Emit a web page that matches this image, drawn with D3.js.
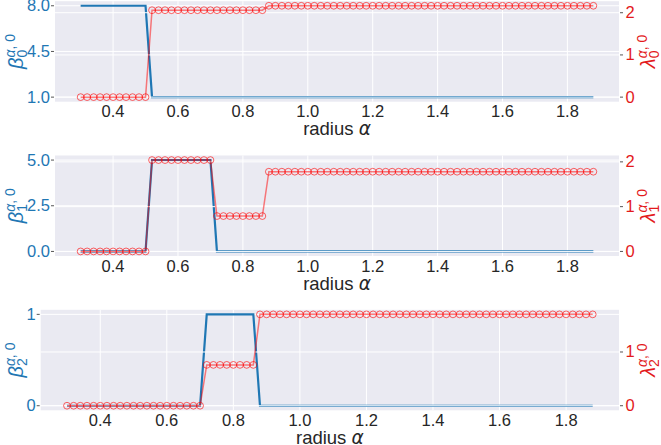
<!DOCTYPE html>
<html>
<head>
<meta charset="utf-8">
<script src="https://cdn.jsdelivr.net/npm/d3@7"></script>
<style>
	body { margin: 0; background: #ffffff; }
	text { font-family: "Liberation Sans", Arial, sans-serif; }
</style>
</head>
<body>
<svg id="chart" width="661" height="445"></svg>
<script>

//radius values (x axis), one value every 0.02
var radius = [
	0.30,0.32,0.34,0.36,0.38,0.40,0.42,0.44,0.46,0.48,
	0.50,0.52,0.54,0.56,0.58,0.60,0.62,0.64,0.66,0.68,
	0.70,0.72,0.74,0.76,0.78,0.80,0.82,0.84,0.86,0.88,
	0.90,0.92,0.94,0.96,0.98,1.00,1.02,1.04,1.06,1.08,
	1.10,1.12,1.14,1.16,1.18,1.20,1.22,1.24,1.26,1.28,
	1.30,1.32,1.34,1.36,1.38,1.40,1.42,1.44,1.46,1.48,
	1.50,1.52,1.54,1.56,1.58,1.60,1.62,1.64,1.66,1.68,
	1.70,1.72,1.74,1.76,1.78,1.80,1.82,1.84,1.86,1.88];

//betti numbers
var beta0 = [
	8,8,8,8,8,8,8,8,8,8,
	8,1,1,1,1,1,1,1,1,1,
	1,1,1,1,1,1,1,1,1,1,
	1,1,1,1,1,1,1,1,1,1,
	1,1,1,1,1,1,1,1,1,1,
	1,1,1,1,1,1,1,1,1,1,
	1,1,1,1,1,1,1,1,1,1,
	1,1,1,1,1,1,1,1,1,1];
var beta1 = [
	0,0,0,0,0,0,0,0,0,0,
	0,5,5,5,5,5,5,5,5,5,
	5,0,0,0,0,0,0,0,0,0,
	0,0,0,0,0,0,0,0,0,0,
	0,0,0,0,0,0,0,0,0,0,
	0,0,0,0,0,0,0,0,0,0,
	0,0,0,0,0,0,0,0,0,0,
	0,0,0,0,0,0,0,0,0,0];
var beta2 = [
	0,0,0,0,0,0,0,0,0,0,
	0,0,0,0,0,0,0,0,0,0,
	0,1,1,1,1,1,1,1,1,0,
	0,0,0,0,0,0,0,0,0,0,
	0,0,0,0,0,0,0,0,0,0,
	0,0,0,0,0,0,0,0,0,0,
	0,0,0,0,0,0,0,0,0,0,
	0,0,0,0,0,0,0,0,0,0];

//smallest eigenvalues
var lambda0 = [
	0,0,0,0,0,0,0,0,0,0,
	0,2.06,2.06,2.06,2.06,2.06,2.06,2.06,2.06,2.06,
	2.06,2.06,2.06,2.06,2.06,2.06,2.06,2.06,2.06,2.165,
	2.165,2.165,2.165,2.165,2.165,2.165,2.165,2.165,2.165,2.165,
	2.165,2.165,2.165,2.165,2.165,2.165,2.165,2.165,2.165,2.165,
	2.165,2.165,2.165,2.165,2.165,2.165,2.165,2.165,2.165,2.165,
	2.165,2.165,2.165,2.165,2.165,2.165,2.165,2.165,2.165,2.165,
	2.165,2.165,2.165,2.165,2.165,2.165,2.165,2.165,2.165,2.165];
var lambda1 = [
	0,0,0,0,0,0,0,0,0,0,
	0,2.04,2.04,2.04,2.04,2.04,2.04,2.04,2.04,2.04,
	2.04,0.79,0.79,0.79,0.79,0.79,0.79,0.79,0.79,1.78,
	1.78,1.78,1.78,1.78,1.78,1.78,1.78,1.78,1.78,1.78,
	1.78,1.78,1.78,1.78,1.78,1.78,1.78,1.78,1.78,1.78,
	1.78,1.78,1.78,1.78,1.78,1.78,1.78,1.78,1.78,1.78,
	1.78,1.78,1.78,1.78,1.78,1.78,1.78,1.78,1.78,1.78,
	1.78,1.78,1.78,1.78,1.78,1.78,1.78,1.78,1.78,1.78];
var lambda2 = [
	0,0,0,0,0,0,0,0,0,0,
	0,0,0,0,0,0,0,0,0,0,
	0,0.76,0.76,0.76,0.76,0.76,0.76,0.76,0.76,1.70,
	1.70,1.70,1.70,1.70,1.70,1.70,1.70,1.70,1.70,1.70,
	1.70,1.70,1.70,1.70,1.70,1.70,1.70,1.70,1.70,1.70,
	1.70,1.70,1.70,1.70,1.70,1.70,1.70,1.70,1.70,1.70,
	1.70,1.70,1.70,1.70,1.70,1.70,1.70,1.70,1.70,1.70,
	1.70,1.70,1.70,1.70,1.70,1.70,1.70,1.70,1.70,1.70];

//tick labels
var xTicks = [0.4, 0.6, 0.8, 1.0, 1.2, 1.4, 1.6, 1.8];
var betaTicks0 = [1.0, 4.5, 8.0];
var betaTicks1 = [0.0, 2.5, 5.0];
var betaTicks2 = [0, 1];
var lambdaTicks0 = [0, 1, 2];
var lambdaTicks1 = [0, 1, 2];
var lambdaTicks2 = [0, 1];

var blue = "#1f77b4";
var red = "#e31a1c";
var bg = "#eaeaf2";

var panels = [
	{ beta: beta0, lambda: lambda0, bTicks: betaTicks0, lTicks: lambdaTicks0, fmt: ".1f", idx: "0", left: 55, top: 1.2 },
	{ beta: beta1, lambda: lambda1, bTicks: betaTicks1, lTicks: lambdaTicks1, fmt: ".1f", idx: "1", left: 55, top: 155.5 },
	{ beta: beta2, lambda: lambda2, bTicks: betaTicks2, lTicks: lambdaTicks2, fmt: "d", idx: "2", left: 40.7, top: 309.8 }
];

var svg = d3.select("#chart");
var right = 619;
var height = 100.5;

//matplotlib style autoscale with 5% margins
function padded(values){
	var ext = d3.extent(values);
	var m = (ext[1] - ext[0]) * 0.05;
	return [ext[0] - m, ext[1] + m];
}

//writes a label like beta_0^{alpha,0} rotated along the axis
function mathLabel(g, x, y, symbol, idx, color){
	var t = g.append("text")
		.attr("transform", "translate(" + x + "," + y + ") rotate(-90)")
		.attr("text-anchor", "middle")
		.style("fill", color)
		.style("font-size", "20px");
	t.append("tspan").style("font-style", "italic").text(symbol);
	var sub = t.append("tspan").attr("dy", 4).style("font-size", "14px").text(idx);
	var w = sub.node().getComputedTextLength();
	var sup = t.append("tspan").attr("dx", -w).attr("dy", -12).style("font-size", "14px");
	sup.append("tspan").style("font-style", "italic").text("α");
	sup.append("tspan").text(", 0");
}

panels.forEach(function(p){
	var x = d3.scaleLinear().domain(padded(radius)).range([p.left, right]);
	var yB = d3.scaleLinear().domain(padded(p.beta)).range([p.top + height, p.top]);
	var yL = d3.scaleLinear().domain(padded(p.lambda)).range([p.top + height, p.top]);
	var g = svg.append("g");

	//background
	g.append("rect")
		.attr("x", p.left).attr("y", p.top)
		.attr("width", right - p.left).attr("height", height)
		.style("fill", bg);

	//grid of the left axis
	g.selectAll(".vg").data(xTicks).enter().append("line")
		.attr("x1", function(d){ return x(d); }).attr("x2", function(d){ return x(d); })
		.attr("y1", p.top).attr("y2", p.top + height)
		.style("stroke", "#ffffff").style("stroke-width", 1);
	g.selectAll(".hg").data(p.bTicks).enter().append("line")
		.attr("x1", p.left).attr("x2", right)
		.attr("y1", function(d){ return yB(d); }).attr("y2", function(d){ return yB(d); })
		.style("stroke", "#ffffff").style("stroke-width", 1);

	//betti line
	var lineB = d3.line().x(function(d, i){ return x(radius[i]); }).y(function(d){ return yB(d); });
	g.append("path")
		.attr("d", lineB(p.beta))
		.style("fill", "none").style("stroke", blue).style("stroke-width", 2.2);

	//grid of the twin axis
	g.selectAll(".hg2").data(p.lTicks).enter().append("line")
		.attr("x1", p.left).attr("x2", right)
		.attr("y1", function(d){ return yL(d); }).attr("y2", function(d){ return yL(d); })
		.style("stroke", "#ffffff").style("stroke-width", 1);

	//eigenvalue line and markers
	var lineL = d3.line().x(function(d, i){ return x(radius[i]); }).y(function(d){ return yL(d); });
	g.append("path")
		.attr("d", lineL(p.lambda))
		.style("fill", "none").style("stroke", "red").style("stroke-opacity", 0.5).style("stroke-width", 1.5);
	g.selectAll(".mk").data(p.lambda).enter().append("circle")
		.attr("cx", function(d, i){ return x(radius[i]); })
		.attr("cy", function(d){ return yL(d); })
		.attr("r", 3.4)
		.style("fill", "none").style("stroke", "red").style("stroke-opacity", 0.6).style("stroke-width", 1);

	//x tick labels
	g.selectAll(".xt").data(xTicks).enter().append("text")
		.attr("x", function(d){ return x(d); })
		.attr("y", p.top + height + 15.5)
		.attr("text-anchor", "middle")
		.style("font-size", "16.5px").style("fill", "#262626")
		.text(d3.format(".1f"));

	//left ticks
	var fmtB = d3.format(p.fmt);
	g.selectAll(".yt").data(p.bTicks).enter().append("line")
		.attr("x1", p.left - 4).attr("x2", p.left - 1)
		.attr("y1", function(d){ return yB(d); }).attr("y2", function(d){ return yB(d); })
		.style("stroke", "#555555").style("stroke-width", 1);
	g.selectAll(".yl").data(p.bTicks).enter().append("text")
		.attr("x", p.left - 5)
		.attr("y", function(d){ return yB(d) + 5.5; })
		.attr("text-anchor", "end")
		.style("font-size", "16.5px").style("fill", blue)
		.text(function(d){ return fmtB(d); });

	//right ticks
	g.selectAll(".rt").data(p.lTicks).enter().append("line")
		.attr("x1", right + 1).attr("x2", right + 4)
		.attr("y1", function(d){ return yL(d); }).attr("y2", function(d){ return yL(d); })
		.style("stroke", "#555555").style("stroke-width", 1);
	g.selectAll(".rl").data(p.lTicks).enter().append("text")
		.attr("x", right + 6.5)
		.attr("y", function(d){ return yL(d) + 5.5; })
		.style("font-size", "16.5px").style("fill", red)
		.text(function(d){ return d; });

	//axis labels
	var xl = g.append("text")
		.attr("x", (p.left + right) / 2)
		.attr("y", p.top + height + 33.5)
		.attr("text-anchor", "middle")
		.style("font-size", "18.5px").style("fill", "#262626");
	xl.append("tspan").text("radius ");
	xl.append("tspan").style("font-style", "italic").style("font-family", "DejaVu Sans").text("α");

	mathLabel(g, 23, p.top + height / 2, "β", p.idx, blue);
	mathLabel(g, 655, p.top + height / 2, "λ", p.idx, red);
});

</script>
</body>
</html>
